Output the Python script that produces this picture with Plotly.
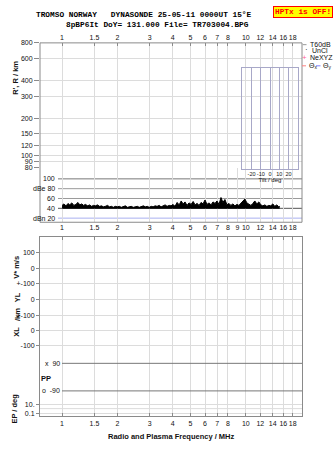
import math
import plotly.graph_objects as go

W, H = 335, 451


def px(x):
    return x / W


def py(y):
    return 1 - y / H


# ---------------- data ----------------
freq_mhz = [1.00, 1.025, 1.05, 1.08, 1.10, 1.13, 1.16, 1.19, 1.22, 1.25, 1.28,
            1.31, 1.34, 1.38, 1.41, 1.45, 1.48, 1.52, 1.56, 1.60,
            1.64, 1.68, 1.72, 1.77, 1.81, 1.86, 1.90, 1.95, 2.00,
            2.05, 2.10, 2.16, 2.21, 2.27, 2.32, 2.38, 2.44, 2.50,
            2.57, 2.63, 2.70, 2.77, 2.84, 2.91, 2.98, 3.06,
            3.13, 3.21, 3.29, 3.38, 3.46, 3.55, 3.64, 3.73, 3.83,
            3.92, 4.02, 4.12, 4.23, 4.34, 4.45, 4.56,
            4.67, 4.79, 4.91, 5.04, 5.17, 5.30,
            5.43, 5.57, 5.71, 5.85, 6.00, 6.15,
            6.31, 6.47, 6.63, 6.80, 6.97, 7.15,
            7.33, 7.51, 7.70, 7.90, 8.10,
            8.30, 8.51, 8.73, 8.95, 9.17,
            9.41, 9.64, 9.89, 10.14, 10.40,
            10.66, 10.93, 11.20, 11.49, 11.78, 12.08,
            12.38, 12.70, 13.02, 13.35, 13.68,
            14.03, 14.38, 14.75, 15.12, 15.30]
echo_db = [46, 49, 45, 50, 47, 51, 46, 48, 52, 47, 49,
           46, 48, 45, 47, 44, 46, 45, 47, 44,
           45, 43, 44, 46, 43, 44, 42, 44, 43,
           44, 42, 43, 45, 42, 43, 44, 42, 43,
           44, 42, 43, 45, 43, 44, 42, 44,
           43, 45, 44, 46, 43, 45, 47, 44, 46,
           45, 48, 44, 52, 47, 55, 49,
           53, 46, 51, 48, 54, 47,
           50, 46, 52, 49, 57, 48,
           51, 47, 53, 50, 55, 48,
           62, 52, 58, 47, 50,
           46, 49, 45, 48, 46,
           50, 54, 59, 51, 48,
           46, 50, 55, 49, 53, 47,
           45, 47, 44, 46, 45,
           49, 44, 47, 43, 44]
noise_floor_db = 39

freq_ticks = [1, 1.5, 2, 3, 4, 5, 6, 7, 8, 10, 12, 14, 16, 18]
freq_ticks_mid = [1, 1.5, 2, 3, 4, 5, 6, 7, 8, 9, 10, 12, 14, 16, 18]
range_ticks = [80, 90, 100, 120, 150, 200, 300, 400, 600, 800]
db_ticks = [100, 80, 60, 40, 20]
db_labels = ["100", "dBe 80", "60", "40", "dBn 20"]
db_line_colors = ["#777777", "#9a9a9a", "#9a9a9a", "#555555", "#aab0f0"]
tilt_ticks = [-20, -10, 0, 10, 20]
lower_rows = [166.3, 150.7, 135, 119, 103, 87, 71.7, 12.3, 3.5]
lower_labels = ["100", "0", "+-100", "0", "+-100", "0", "-100", "10.", "0.1"]
lower_extra_rows = [8]
pp_rows = [54, 26]
pp_labels = ["x  90", "o  -90"]

FONT = "Liberation Sans"
MONO = "Liberation Mono"
TICKF = dict(family=FONT, size=7, color="#111111")
GRID = "#dcdcdc"
FRAME = "#8a8a8a"
XR = [-0.12, 1.306]

fig = go.Figure()

fig.add_trace(go.Scatter(x=[], y=[], xaxis="x", yaxis="y", showlegend=False))
fig.add_trace(go.Scatter(x=freq_mhz, y=[noise_floor_db] * len(freq_mhz), xaxis="x2", yaxis="y2",
                         mode="lines", line=dict(width=0, color="black"),
                         showlegend=False, hoverinfo="skip"))
fig.add_trace(go.Scatter(x=freq_mhz, y=echo_db, xaxis="x2", yaxis="y2", mode="lines",
                         line=dict(width=1, color="black"), fill="tonexty",
                         fillcolor="black", showlegend=False))
fig.add_trace(go.Scatter(x=[], y=[], xaxis="x3", yaxis="y3", showlegend=False))
fig.add_trace(go.Scatter(x=[], y=[], xaxis="x4", yaxis="y4", showlegend=False))

xdom = [px(40), px(302)]
common_x = dict(type="log", range=XR, domain=xdom, zeroline=False, showgrid=True,
                gridcolor=GRID, gridwidth=1, tickfont=TICKF, tickcolor=FRAME, tickangle=0)

fig.update_layout(
    width=W, height=H,
    margin=dict(l=0, r=0, t=0, b=0),
    paper_bgcolor="white", plot_bgcolor="rgba(0,0,0,0)",
    showlegend=False,
    xaxis=dict(common_x, anchor="y", side="top", tickvals=freq_ticks,
               ticktext=[str(t) for t in freq_ticks], ticks="inside", ticklen=3,
               showline=False),
    yaxis=dict(type="log", range=[math.log10(80), math.log10(800)],
               domain=[py(166.5), py(39.5)], anchor="x", tickvals=range_ticks,
               ticktext=[str(t) for t in range_ticks], ticks="outside", ticklen=5,
               tickcolor=FRAME, tickfont=TICKF, showgrid=True, gridcolor=GRID,
               zeroline=False, showline=False),
    xaxis2=dict(common_x, anchor="y2", side="bottom", tickvals=freq_ticks_mid,
                ticktext=[str(t) for t in freq_ticks_mid], ticks="", showline=False),
    yaxis2=dict(range=[11.6, 122.3], domain=[py(221.7), py(166.5)], anchor="x2",
                showticklabels=False, showgrid=False, zeroline=False, showline=False),
    xaxis3=dict(common_x, anchor="y3", side="bottom", tickvals=freq_ticks,
                ticktext=[str(t) for t in freq_ticks], ticks="inside", ticklen=3,
                showline=True, linecolor=FRAME, mirror="ticks"),
    yaxis3=dict(range=[0, 182], domain=[py(419), py(237)], anchor="x3",
                tickvals=lower_rows, ticktext=lower_labels, ticks="outside", ticklen=3,
                tickcolor=FRAME, tickfont=TICKF, showgrid=True, gridcolor=GRID,
                zeroline=False, showline=True, linecolor=FRAME, mirror=True),
    xaxis4=dict(range=[-30, 30], domain=[px(242.3), px(297.7)], anchor="y4",
                tickvals=tilt_ticks, ticktext=[str(t) for t in tilt_ticks], ticks="",
                tickangle=0,
                tickfont=dict(family=FONT, size=5.5, color="#111111"),
                showgrid=True, gridcolor="#a8a8c8", zeroline=False,
                showline=True, linecolor="#a8a8c8", mirror=True,
                title=dict(text="Tilt / deg", font=dict(family=FONT, size=6, color="#111111"),
                           standoff=0)),
    yaxis4=dict(range=[0, 1], domain=[py(167.3), py(65)], anchor="x4",
                showticklabels=False, showgrid=False, zeroline=False,
                showline=True, linecolor="#a8a8c8", mirror=True),
)

shapes = []
shapes.append(dict(type="rect", xref="paper", yref="paper", x0=px(40), x1=px(302),
                   y0=py(221.7), y1=py(39.5), line=dict(color=FRAME, width=1)))
for v, c in zip(db_ticks, db_line_colors):
    shapes.append(dict(type="line", xref="paper", yref="y2", x0=px(58), x1=px(302),
                       y0=v, y1=v, line=dict(color=c, width=1), layer="below"))
for r in pp_rows:
    shapes.append(dict(type="line", xref="paper", yref="y3", x0=px(62), x1=px(302),
                       y0=r, y1=r, line=dict(color="#777777", width=1)))
for r in lower_extra_rows:
    shapes.append(dict(type="line", xref="paper", yref="y3", x0=px(40), x1=px(302),
                       y0=r, y1=r, line=dict(color=GRID, width=1), layer="below"))

annotations = []
for v, t in zip(db_ticks, db_labels):
    annotations.append(dict(text=t, x=px(57), y=v, xref="paper", yref="y2",
                            xanchor="right", yanchor="middle", showarrow=False,
                            font=TICKF))
for r, t in zip(pp_rows, pp_labels):
    annotations.append(dict(text=t, x=px(61.5), y=r, xref="paper", yref="y3",
                            xanchor="right", yanchor="middle", showarrow=False,
                            font=TICKF))

BOLD = dict(family=FONT, size=7.5, color="#111111")


def note(text, x, y, angle=0, font=BOLD, xanchor="center", yanchor="middle", **kw):
    annotations.append(dict(text=text, x=px(x), y=py(y), xref="paper", yref="paper",
                            xanchor=xanchor, yanchor=yanchor, showarrow=False,
                            textangle=angle, font=font, **kw))


TF = dict(family=MONO, size=7.8, color="#000000")
note("<b>TROMSO NORWAY   DYNASONDE 25-05-11 0000UT 15°E</b>", 35, 16.2, font=TF,
     xanchor="left", yanchor="bottom", borderpad=0)
note("<b>8pBP6It DoY= 131.000 File= TR703004.BPG</b>", 65, 16.4, font=TF,
     xanchor="left", yanchor="top", borderpad=0)
note("<b>HPTx is OFF!</b>", 302.5, 8.5, font=dict(family=MONO, size=7.8, color="#ff0000"),
     bgcolor="#ffff00", bordercolor="#ff0000", borderwidth=1, borderpad=1)

note("<b>R', R / km</b>", 16, 75, angle=-90)
note("<b>V* m/s</b>", 17, 268, angle=-90)
note("<b>YL</b>", 17, 298, angle=-90)
note("<b>/km</b>", 17, 316, angle=-90)
note("<b>XL</b>", 17, 333, angle=-90)
note("<b>PP</b>", 46, 380)
note("<b>EP / deg</b>", 15, 411, angle=-90)
note("<b>Radio and Plasma Frequency / MHz</b>", 171, 439)

LF = dict(family=FONT, size=7, color="#111111")
shapes.append(dict(type="line", xref="paper", yref="paper", x0=px(302.7), x1=px(306.5),
                   y0=py(41.3), y1=py(41.3), line=dict(color="#999999", width=1)))
note("T60dB", 307.5, 41.3, font=LF, xanchor="left")
note("·", 306.5, 46.7, font=dict(family=FONT, size=8, color="#000"), xanchor="center")
note("UnCl", 309.5, 47.3, font=LF, xanchor="left")
note("+", 304, 54.7, font=dict(family=FONT, size=8, color="#ff6699"), xanchor="center")
note("NeXYZ", 307.5, 54.7, font=LF, xanchor="left")
shapes.append(dict(type="line", xref="paper", yref="paper", x0=px(302), x1=px(306),
                   y0=py(62.8), y1=py(62.8), line=dict(color="#ff8080", width=1)))
note("Θ<sub>x</sub>", 306.5, 62.8, font=LF, xanchor="left")
shapes.append(dict(type="line", xref="paper", yref="paper", x0=px(316), x1=px(320.5),
                   y0=py(62.8), y1=py(62.8), line=dict(color="#8080ff", width=1)))
note("Θ<sub>y</sub>", 321, 62.8, font=LF, xanchor="left")

fig.update_layout(shapes=shapes, annotations=annotations)
fig.write_html("out.html")
